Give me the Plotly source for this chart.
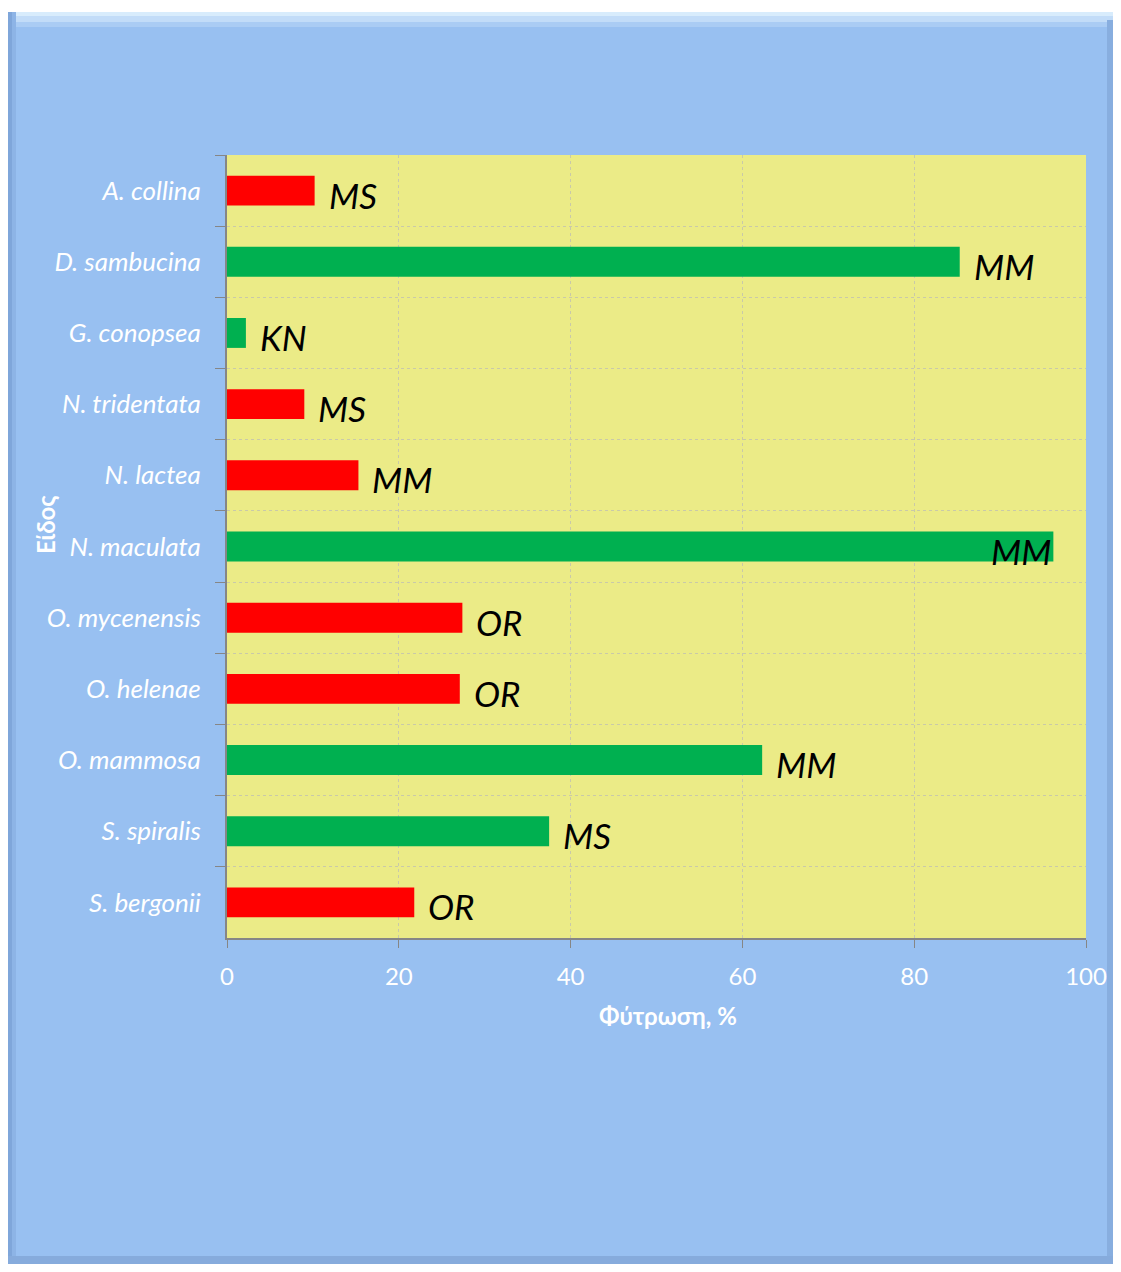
import plotly.graph_objects as go

species = ["A. collina", "D. sambucina", "G. conopsea", "N. tridentata", "N. lactea",
           "N. maculata", "O. mycenensis", "O. helenae", "O. mammosa", "S. spiralis", "S. bergonii"]
germination = [10.2, 85.3, 2.2, 9.0, 15.3, 96.2, 27.4, 27.1, 62.3, 37.5, 21.8]
labels = ["MS", "MM", "KN", "MS", "MM", "MM", "OR", "OR", "MM", "MS", "OR"]
bar_colors = ["#FF0000", "#00B050", "#00B050", "#FF0000", "#FF0000", "#00B050",
              "#FF0000", "#FF0000", "#00B050", "#00B050", "#FF0000"]
x_ticks = [0, 20, 40, 60, 80, 100]

FONT = "Lato, 'Open Sans', sans-serif"
BLUE = "#98C0F1"

# page has an 8px body margin; figure pixel = page pixel - 8
W, H = 1105, 1256
L, R, T, B = 219, 1078, 147, 930

fig = go.Figure()
fig.add_trace(go.Bar(
    y=species, x=germination, orientation="h",
    marker=dict(color=bar_colors, line=dict(width=0)),
    width=0.42, hoverinfo="skip",
))

for sp, v, lab in zip(species, germination, labels):
    inside = v > 90
    fig.add_annotation(
        x=v, y=sp, xref="x", yref="y", text=lab, showarrow=False,
        xanchor="right" if inside else "left",
        xshift=0 if inside else 12, yshift=-4,
        font=dict(family=FONT, size=35, color="black", style="italic"),
    )

fx = lambda p: (p - 8 - L) / (R - L)
fy = lambda p: (B - (p - 8)) / (B - T)

shapes = []
def px_rect(x0, y0, x1, y1, color):
    shapes.append(dict(type="rect", xref="paper", yref="paper",
                       x0=fx(x0), x1=fx(x1), y0=fy(y1), y1=fy(y0),
                       fillcolor=color, line=dict(width=0), layer="below"))

px_rect(0, 0, 1130, 12, "white")
px_rect(8, 12, 1120, 16, "#D8ECFC")
px_rect(8, 16, 1120, 22, "#C2DCF8")
px_rect(8, 22, 1120, 27, "#AACCF4")
px_rect(8, 12, 12, 1270, "#7FA6DA")
px_rect(12, 12, 16, 1270, "#8DB4E6")
px_rect(1107, 20, 1114, 1262, "#88AEDF")
px_rect(8, 1256, 1121, 1270, "#86ABDC")

fig.update_layout(shapes=shapes)

# axis titles as annotations for exact placement
fig.add_annotation(x=fx(668), y=fy(1015), xref="paper", yref="paper",
                   text="<b>Φύτρωση, %</b>", showarrow=False,
                   xanchor="center", yanchor="middle",
                   font=dict(family=FONT, size=24, color="white"))
fig.add_annotation(x=fx(45), y=fy(525), xref="paper", yref="paper",
                   text="<b>Είδος</b>", showarrow=False, textangle=-90,
                   xanchor="center", yanchor="middle",
                   font=dict(family=FONT, size=24, color="white"))

fig.update_layout(
    width=W, height=H,
    paper_bgcolor=BLUE, plot_bgcolor="#EBEB87",
    margin=dict(l=L, r=W - R, t=T, b=H - B),
    showlegend=False,
    font=dict(family=FONT, color="white", size=22),
)
fig.update_xaxes(
    automargin=False,
    range=[0, 100], tickvals=x_ticks, ticks="outside", ticklen=8, tickcolor="#868686",
    showline=True, linecolor="#868686", linewidth=2,
    showgrid=True, gridcolor="#C9C9A8", griddash="dot", gridwidth=1,
    zeroline=False, ticklabelstandoff=8,
    tickfont=dict(family=FONT, size=24, color="white"),
)
fig.update_yaxes(
    automargin=False,
    autorange="reversed", type="category", tickson="boundaries",
    ticks="outside", ticklen=10, tickcolor="#868686",
    showline=True, linecolor="#868686", linewidth=2,
    showgrid=True, gridcolor="#C9C9A8", griddash="dot", gridwidth=1,
    ticklabelstandoff=19,
    tickfont=dict(family=FONT, size=26, color="white", style="italic"),
)

fig.write_html("out.html")
